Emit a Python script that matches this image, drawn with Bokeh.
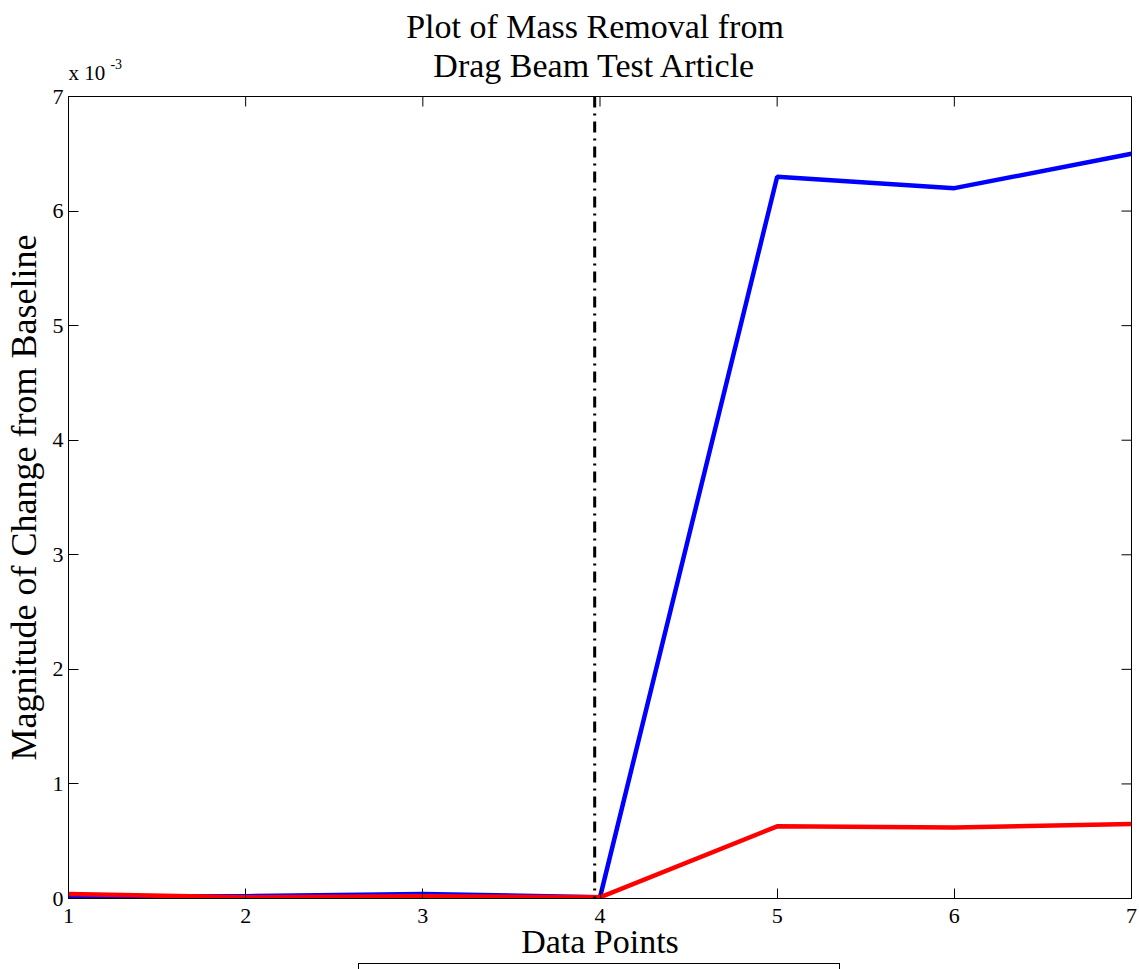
from bokeh.plotting import figure
from bokeh.models import Span, FixedTicker, CustomJSTickFormatter, Div
from bokeh.layouts import column
from bokeh.core.properties import value
from bokeh.embed import file_html
from bokeh.resources import INLINE

# ---- data ----
data_points = [1, 2, 3, 4, 5, 6, 7]
blue_series = [0.00002, 0.00002, 0.00004, 0.00001, 0.0063, 0.0062, 0.0065]
red_series = [0.00004, 0.00001, 0.00002, 0.00001, 0.00063, 0.00062, 0.00065]
separator_x = 3.97
x_ticks = [1, 2, 3, 4, 5, 6, 7]
y_ticks = [0, 0.001, 0.002, 0.003, 0.004, 0.005, 0.006, 0.007]
title_lines = ["Plot of Mass Removal from", "Drag Beam Test Article"]
exponent_text = "x 10"
exponent_power = "-3"

FONT = "Liberation Serif"
X_RANGE = (1, 7)
Y_RANGE = (0, 0.007)
LEFT, RIGHT = 67, 8
FRAME_W = 1139 - LEFT - RIGHT
HEADER_H = 85

# ---- header figure (title + exponent) ----
h = figure(width=1139, height=HEADER_H, output_backend="svg", toolbar_location=None,
           title_location=None, x_axis_location=None, y_axis_location=None,
           x_range=X_RANGE, y_range=(0, HEADER_H),
           min_border_left=LEFT, min_border_right=RIGHT, min_border_top=0, min_border_bottom=0)
h.grid.visible = False
h.outline_line_color = None
x_per_px = (X_RANGE[1] - X_RANGE[0]) / FRAME_W
title_x = (X_RANGE[0] + X_RANGE[1]) / 2 - 5 * x_per_px
# baseline positions measured from the header top, compensated for the text box offset
h.text(x=[title_x, title_x], y=[HEADER_H - 37 + 11, HEADER_H - 76 + 11], text=title_lines,
       text_align="center", text_baseline="alphabetic", text_font=value(FONT),
       text_font_size="34px", text_color="black")
h.text(x=[X_RANGE[0]], y=[HEADER_H - 79 + 7], text=[exponent_text], text_align="left",
       text_baseline="alphabetic", text_font=value(FONT), text_font_size="21px",
       text_color="black")
h.text(x=[X_RANGE[0] + 42 * x_per_px], y=[HEADER_H - 67 + 4], text=[exponent_power],
       text_align="left", text_baseline="alphabetic", text_font=value(FONT),
       text_font_size="14px", text_color="black")

# ---- main figure ----
MAIN_H = 963 - HEADER_H
TOP_B = 96 - HEADER_H
BOTTOM_B = MAIN_H - (898 - HEADER_H)
FRAME_H = MAIN_H - TOP_B - BOTTOM_B

p = figure(width=1139, height=MAIN_H, output_backend="svg", toolbar_location=None,
           title_location=None,
           x_range=X_RANGE, y_range=Y_RANGE,
           min_border_left=LEFT, min_border_right=RIGHT, min_border_top=TOP_B,
           min_border_bottom=BOTTOM_B)
p.grid.visible = False
p.outline_line_color = "black"
p.outline_line_width = 1

p.line(data_points, blue_series, line_color="#0000ff", line_width=4.5)
p.line(data_points, red_series, line_color="#ff0000", line_width=4.5)

p.add_layout(Span(location=separator_x, dimension="height", line_color="black",
                  line_width=3, line_dash="11 6 2 6"))

# mirrored inward ticks on top and right
y_per_px = (Y_RANGE[1] - Y_RANGE[0]) / FRAME_H
tick_len = 10
p.segment(x0=x_ticks, y0=[Y_RANGE[1]] * len(x_ticks), x1=x_ticks,
          y1=[Y_RANGE[1] - tick_len * y_per_px] * len(x_ticks), line_color="black", line_width=1)
p.segment(x0=[X_RANGE[1] - tick_len * x_per_px] * len(y_ticks), y0=y_ticks,
          x1=[X_RANGE[1]] * len(y_ticks), y1=y_ticks, line_color="black", line_width=1)

for ax in [p.xaxis[0], p.yaxis[0]]:
    ax.major_tick_in = 10
    ax.major_tick_out = 0
    ax.minor_tick_in = 0
    ax.minor_tick_out = 0
    ax.axis_line_color = "black"
    ax.major_tick_line_color = "black"
    ax.major_label_text_font = FONT
    ax.major_label_text_font_size = "22px"
    ax.major_label_text_color = "black"
    ax.axis_label_text_font = FONT
    ax.axis_label_text_font_style = "normal"
    ax.axis_label_text_color = "black"

p.xaxis[0].ticker = FixedTicker(ticks=x_ticks)
p.yaxis[0].ticker = FixedTicker(ticks=y_ticks)
p.yaxis[0].formatter = CustomJSTickFormatter(code="return (tick*1000).toFixed(0);")
p.xaxis[0].axis_label = "Data Points"
p.yaxis[0].axis_label = "Magnitude of Change from Baseline"
p.xaxis[0].axis_label_text_font_size = "34px"
p.yaxis[0].axis_label_text_font_size = "36px"
p.xaxis[0].major_label_standoff = 10
p.xaxis[0].axis_label_standoff = -3
p.yaxis[0].major_label_standoff = 5
p.yaxis[0].axis_label_standoff = 6

# partially visible legend box under the axis label
legend_box = Div(text="", width=482, height=6, margin=(0, 0, 0, 358),
                 styles={"border": "1px solid black", "border-bottom": "none",
                         "box-sizing": "border-box", "background": "white"})

layout = column(h, p, legend_box, spacing=0)
open("out.html", "w").write(file_html(layout, INLINE))
